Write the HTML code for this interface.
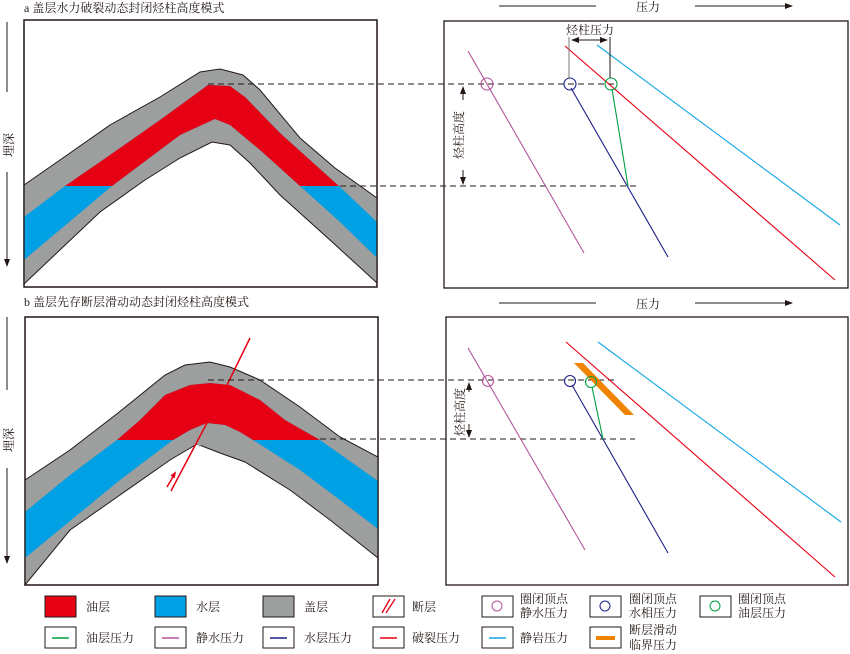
<!DOCTYPE html>
<html><head><meta charset="utf-8"><style>
body{margin:0;background:#fff}
svg{display:block}
text{font-family:"Liberation Serif","Noto Serif CJK SC","Noto Sans CJK SC",serif;fill:#231815}
</style></head><body>
<svg width="850" height="654" viewBox="0 0 850 654" xmlns="http://www.w3.org/2000/svg">
<defs>
<clipPath id="ca"><rect x="0" y="0" width="850" height="186"/></clipPath>
<clipPath id="cb"><rect x="0" y="0" width="850" height="440"/></clipPath>
<marker id="ar" markerWidth="8" markerHeight="8" refX="7" refY="4" orient="auto"><path d="M0,1 L8,4 L0,7z" fill="#231815"/></marker>
</defs>
<!-- titles -->
<text x="24" y="12" font-size="12">a 盖层水力破裂动态封闭烃柱高度模式</text>
<text x="24" y="306" font-size="12">b 盖层先存断层滑动动态封闭烃柱高度模式</text>
<!-- depth axes -->
<g stroke="#231815" stroke-width="1">
<line x1="7" y1="22" x2="7" y2="92"/><line x1="7" y1="172" x2="7" y2="266" marker-end="url(#ar)"/>
<line x1="7" y1="317" x2="7" y2="390"/><line x1="7" y1="468" x2="7" y2="563" marker-end="url(#ar)"/>
<line x1="499" y1="6" x2="596" y2="6"/><line x1="695" y1="6" x2="792" y2="6" marker-end="url(#ar)"/>
<line x1="499" y1="303" x2="596" y2="303"/><line x1="695" y1="303" x2="792" y2="303" marker-end="url(#ar)"/>
</g>
<text x="13" y="133" font-size="12" transform="rotate(-90 13 133)" text-anchor="end" dy="0">埋深</text>
<text x="13" y="428" font-size="12" transform="rotate(-90 13 428)" text-anchor="end">埋深</text>
<text x="648" y="11" font-size="12" text-anchor="middle">压力</text>
<text x="648" y="308" font-size="12" text-anchor="middle">压力</text>

<!-- panel a left -->
<rect x="24" y="20" width="353" height="267" fill="#fff" stroke="#231815" stroke-width="1.3"/>
<polygon points="24,185 60,160 110,125 160,97 200,72 220,69 243,75 260,90 300,138 335,168 377,198 377,283 330,240 280,195 250,163 230,145 212,142 180,158 145,180 100,212 24,284" fill="#9d9e9e" stroke="#231815" stroke-width="1"/>
<polygon points="24,217 65,186 110,155 160,120 208,85 230,86 245,97 280,133 340,187 377,222 377,258 340,222 300,186 260,150 230,125 215,119 180,135 112,186 24,260" fill="#00a0e4"/>
<polygon clip-path="url(#ca)" points="24,217 65,186 110,155 160,120 208,85 230,86 245,97 280,133 340,187 377,222 377,258 340,222 300,186 260,150 230,125 215,119 180,135 112,186 24,260" fill="#e60013"/>
<rect x="24" y="20" width="353" height="267" fill="none" stroke="#231815" stroke-width="1.3"/>

<!-- panel b left -->
<rect x="25" y="317" width="353" height="268" fill="#fff" stroke="#231815" stroke-width="1.3"/>
<polygon points="25,480 70,450 118,413 165,375 185,365 210,362 230,367 260,380 300,407 340,437 378,457 378,558 330,520 290,490 245,462 220,453 197,444 170,460 120,495 70,530 25,585" fill="#9d9e9e" stroke="#231815" stroke-width="1"/>
<polygon points="25,512 70,475 117,440 140,420 165,395 190,385 210,383 230,385 260,400 285,420 320,440 378,481 378,529 340,500 300,470 253,440 240,432 225,425 207,423 190,430 173,440 120,480 25,558" fill="#00a0e4"/>
<polygon clip-path="url(#cb)" points="25,512 70,475 117,440 140,420 165,395 190,385 210,383 230,385 260,400 285,420 320,440 378,481 378,529 340,500 300,470 253,440 240,432 225,425 207,423 190,430 173,440 120,480 25,558" fill="#e60013"/>
<polygon points="207,423 197,444 200,447 210,425" fill="#9d9e9e"/>
<rect x="25" y="317" width="353" height="268" fill="none" stroke="#231815" stroke-width="1.3"/>
<g stroke="#e60013" stroke-width="1.5" fill="none">
<line x1="250" y1="338" x2="227" y2="385"/>
<line x1="208" y1="421" x2="171" y2="491"/>
<line x1="167" y1="487" x2="174" y2="475"/><path d="M171,476 L175,473 L174,478"/>
</g>

<!-- dashed -->
<g stroke="#231815" stroke-width="1" stroke-dasharray="6,4">
<line x1="208" y1="84" x2="615" y2="84"/><line x1="340" y1="186" x2="637" y2="186"/>
<line x1="208" y1="380" x2="617" y2="380"/><line x1="320" y1="439" x2="635" y2="439"/>
</g>

<!-- panel a right -->
<rect x="444" y="21" width="404" height="267" fill="none" stroke="#231815" stroke-width="1.3"/>
<g stroke-width="1.1" fill="none">
<line x1="468" y1="51" x2="584" y2="253" stroke="#b5549a"/>
<line x1="571" y1="88" x2="668" y2="257" stroke="#1d2088"/>
<line x1="612" y1="89" x2="628" y2="186" stroke="#00a040"/>
<line x1="565" y1="46" x2="835" y2="280" stroke="#e60013"/>
<line x1="597" y1="45" x2="840" y2="225" stroke="#13a6e4"/>
<circle cx="487" cy="84" r="6" stroke="#b5549a"/>
<circle cx="570" cy="84" r="6" stroke="#1d2088"/>
<circle cx="611" cy="84" r="6" stroke="#00a040"/>
</g>
<g stroke="#231815" stroke-width="1">
<line x1="569" y1="37" x2="569" y2="78" stroke="#777"/><line x1="610" y1="37" x2="610" y2="78"/>
<line x1="572" y1="40" x2="607" y2="40" marker-end="url(#ar)"/><line x1="607" y1="40" x2="572" y2="40" marker-end="url(#ar)"/>
<line x1="463" y1="100" x2="463" y2="87" marker-end="url(#ar)"/><line x1="463" y1="170" x2="463" y2="184" marker-end="url(#ar)"/>
</g>
<text x="590" y="34" font-size="12" text-anchor="middle">烃柱压力</text>
<text x="459" y="135" font-size="12" transform="rotate(-90 459 135)" text-anchor="middle" dy="4">烃柱高度</text>

<!-- panel b right -->
<rect x="446" y="317" width="402" height="268" fill="none" stroke="#231815" stroke-width="1.3"/>
<polygon points="574,363 583,363 634,415 625,415" fill="#f08300"/>
<g stroke-width="1.1" fill="none">
<line x1="468" y1="348" x2="585" y2="550" stroke="#b5549a"/>
<line x1="572" y1="385" x2="668" y2="553" stroke="#1d2088"/>
<line x1="592" y1="387" x2="603" y2="439" stroke="#00a040"/>
<line x1="566" y1="342" x2="835" y2="577" stroke="#e60013"/>
<line x1="598" y1="342" x2="841" y2="522" stroke="#13a6e4"/>
<circle cx="488" cy="381" r="5.5" stroke="#b5549a"/>
<circle cx="570" cy="381" r="5.5" stroke="#1d2088"/>
<circle cx="591" cy="382" r="5.5" stroke="#00a040"/>
</g>
<g stroke="#231815" stroke-width="1">
<line x1="469" y1="392" x2="469" y2="383" marker-end="url(#ar)"/><line x1="469" y1="424" x2="469" y2="437" marker-end="url(#ar)"/>
</g>
<text x="460" y="412" font-size="12" transform="rotate(-90 460 412)" text-anchor="middle" dy="4">烃柱高度</text>

<!-- legend -->
<g font-size="12">
<rect x="45" y="596" width="31" height="21" fill="#e60013" stroke="#231815"/><text x="86" y="611">油层</text>
<rect x="155" y="596" width="31" height="21" fill="#00a0e4" stroke="#231815"/><text x="196" y="611">水层</text>
<rect x="263" y="596" width="31" height="21" fill="#9d9e9e" stroke="#231815"/><text x="304" y="611">盖层</text>
<rect x="373" y="596" width="31" height="21" fill="#fff" stroke="#231815"/>
<line x1="382" y1="613" x2="390" y2="599" stroke="#e60013" stroke-width="1.3"/><line x1="386" y1="613" x2="395" y2="599" stroke="#e60013" stroke-width="1.3"/>
<text x="412" y="611">断层</text>
<rect x="482" y="596" width="31" height="21" fill="#fff" stroke="#231815"/><circle cx="497" cy="606" r="5" fill="none" stroke="#b5549a"/>
<text x="520" y="603">圈闭顶点</text><text x="520" y="617">静水压力</text>
<rect x="590" y="596" width="31" height="21" fill="#fff" stroke="#231815"/><circle cx="605" cy="606" r="5" fill="none" stroke="#1d2088"/>
<text x="629" y="603">圈闭顶点</text><text x="629" y="617">水相压力</text>
<rect x="700" y="596" width="31" height="21" fill="#fff" stroke="#231815"/><circle cx="715" cy="606" r="5" fill="none" stroke="#00a040"/>
<text x="738" y="603">圈闭顶点</text><text x="738" y="617">油层压力</text>

<rect x="45" y="627" width="31" height="21" fill="#fff" stroke="#231815"/><line x1="52" y1="638" x2="69" y2="638" stroke="#00a040" stroke-width="1.5"/><text x="86" y="642">油层压力</text>
<rect x="155" y="627" width="31" height="21" fill="#fff" stroke="#231815"/><line x1="162" y1="638" x2="179" y2="638" stroke="#b5549a" stroke-width="1.5"/><text x="196" y="642">静水压力</text>
<rect x="263" y="627" width="31" height="21" fill="#fff" stroke="#231815"/><line x1="270" y1="638" x2="287" y2="638" stroke="#1d2088" stroke-width="1.5"/><text x="304" y="642">水层压力</text>
<rect x="373" y="627" width="31" height="21" fill="#fff" stroke="#231815"/><line x1="380" y1="638" x2="397" y2="638" stroke="#e60013" stroke-width="1.5"/><text x="412" y="642">破裂压力</text>
<rect x="482" y="627" width="31" height="21" fill="#fff" stroke="#231815"/><line x1="489" y1="638" x2="506" y2="638" stroke="#13a6e4" stroke-width="1.5"/><text x="520" y="642">静岩压力</text>
<rect x="590" y="627" width="31" height="21" fill="#fff" stroke="#231815"/><line x1="596" y1="638" x2="615" y2="638" stroke="#f08300" stroke-width="4"/>
<text x="629" y="634">断层滑动</text><text x="629" y="649">临界压力</text>
</g>
</svg>
</body></html>
